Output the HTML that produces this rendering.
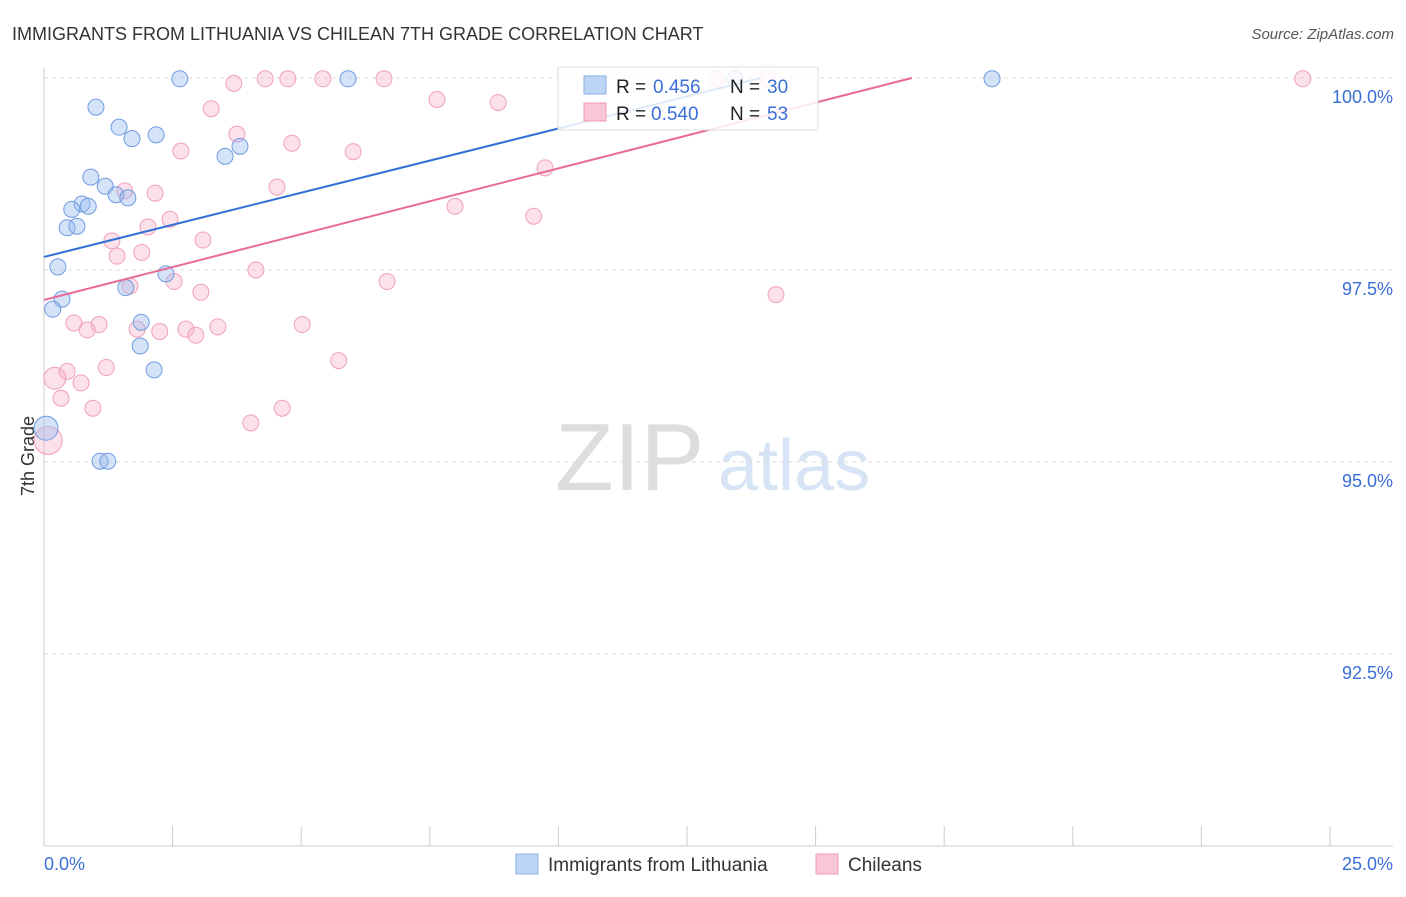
<!DOCTYPE html>
<html><head><meta charset="utf-8">
<style>
body{margin:0;background:#fff;font-family:"Liberation Sans",sans-serif;}
svg text{font-family:"Liberation Sans",sans-serif;}
</style></head>
<body>
<svg id="chart" width="1406" height="892" xmlns="http://www.w3.org/2000/svg">
<text x="12" y="40" font-size="18" fill="#333">IMMIGRANTS FROM LITHUANIA VS CHILEAN 7TH GRADE CORRELATION CHART</text>
<text x="1394" y="39" font-size="15" fill="#555" text-anchor="end" font-style="italic">Source: ZipAtlas.com</text>
<text x="555" y="490" font-size="96" fill="#ddd" font-family="Liberation Serif">ZIP</text>
<text x="718" y="490" font-size="72" fill="#d6e4f5">atlas</text>
<text transform="translate(34,456) rotate(-90)" font-size="18" fill="#333" text-anchor="middle">7th Grade</text>
<g id="grid"></g><g id="marks"></g>
<g>
<rect x="558" y="67" width="260" height="63" fill="rgba(255,255,255,0.85)" stroke="#ddd"/>
<rect x="584" y="76" width="22" height="18" fill="#bcd4f5" stroke="#8ab0e8"/>
<rect x="584" y="103" width="22" height="18" fill="#f9c6d6" stroke="#ef9ab5"/>
<text x="616" y="93" font-size="19" fill="#222">R =</text>
<text x="653" y="93" font-size="19" fill="#3a6fd8">0.456</text>
<text x="730" y="93" font-size="19" fill="#222">N =</text>
<text x="767" y="93" font-size="19" fill="#3a6fd8">30</text>
<text x="616" y="120" font-size="19" fill="#222">R =</text>
<text x="651" y="120" font-size="19" fill="#3a6fd8">0.540</text>
<text x="730" y="120" font-size="19" fill="#222">N =</text>
<text x="767" y="120" font-size="19" fill="#3a6fd8">53</text>
</g>
<g>
<rect x="516" y="854" width="22" height="20" fill="#bcd4f5" stroke="#8ab0e8"/>
<text x="548" y="871" font-size="19" fill="#333">Immigrants from Lithuania</text>
<rect x="816" y="854" width="22" height="20" fill="#f9c6d6" stroke="#ef9ab5"/>
<text x="848" y="871" font-size="19" fill="#333">Chileans</text>
</g>
</svg>
<script>
const yTicks=[100,97.5,95,92.5];
const yTickLabels=["100.0%","97.5%","95.0%","92.5%"];
const blueX=[2.64,5.91,18.43,1.01,1.46,1.71,2.18,3.52,3.81,0.91,1.19,1.40,1.63,0.74,0.86,0.54,0.45,0.64,0.27,2.37,1.59,0.35,0.17,1.89,1.87,2.14,0.04,1.09,1.24,13.43];
const blueY=[99.99,99.99,99.99,99.62,99.36,99.21,99.26,98.98,99.11,98.71,98.59,98.48,98.44,98.36,98.33,98.29,98.05,98.07,97.54,97.45,97.27,97.12,96.99,96.82,96.51,96.20,95.44,95.01,95.01,99.99];
const blueR=[8,8,8,8,8,8,8,8,8,8,8,8,8,8,8,8,8,8,8,8,8,8,8,8,8,8,12,8,8,8];
const pinkX=[3.69,4.30,4.74,5.42,6.61,13.08,14.07,24.47,3.25,7.64,8.83,3.75,4.82,2.66,6.01,9.74,4.53,1.57,2.16,7.99,9.52,2.45,2.02,1.32,3.09,1.90,1.42,4.12,2.53,6.67,1.67,3.05,14.23,0.58,1.07,5.02,0.84,1.81,2.76,2.25,3.38,2.95,5.73,1.21,0.45,0.21,0.72,0.33,0.95,4.63,4.02,0.08];
const pinkY=[99.93,99.99,99.99,99.99,99.99,99.99,99.99,99.99,99.60,99.72,99.68,99.27,99.15,99.05,99.04,98.83,98.58,98.53,98.50,98.33,98.20,98.16,98.06,97.88,97.89,97.73,97.68,97.50,97.35,97.35,97.29,97.21,97.18,96.81,96.79,96.79,96.72,96.73,96.73,96.70,96.76,96.65,96.32,96.23,96.18,96.09,96.03,95.83,95.70,95.70,95.51,95.28];
const pinkR=[8,8,8,8,8,8,8,8,8,8,8,8,8,8,8,8,8,8,8,8,8,8,8,8,8,8,8,8,8,8,8,8,8,8,8,8,8,8,8,8,8,8,8,8,8,11,8,8,8,8,8,14];
const blueLine=[[0,97.67],[13.93,100]];
const pinkLine=[[0,97.11],[16.87,100]];
const X=v=>44+v*51.44, Y=v=>78+(100-v)*76.8;
const ns="http://www.w3.org/2000/svg";
const grid=document.getElementById('grid'), marks=document.getElementById('marks');
function mk(t,a,p){const e=document.createElementNS(ns,t);for(const k in a)e.setAttribute(k,a[k]);p.appendChild(e);return e;}
yTicks.forEach((t,i)=>{
 const l=mk('line',{x1:44,x2:1393,y1:Y(t),y2:Y(t),stroke:'#ddd','stroke-dasharray':'4,4'},grid);
 
 
 const tx=mk('text',{x:1393,y:Y(t)+25,'font-size':18,fill:'#3a6fd8','text-anchor':'end'},grid);
 tx.textContent=yTickLabels[i];
 
 
});
const ax=mk('line',{x1:44,x2:44,y1:68,y2:846,stroke:'#ccc'},grid);


const bx=mk('line',{x1:44,x2:1393,y1:846,y2:846,stroke:'#ccc'},grid);


for(let i=0;i<=10;i++){const t=mk('line',{x1:X(i*2.5),x2:X(i*2.5),y1:826,y2:846,stroke:'#ccc'},grid);
 
 }
[["0.0%",44,'start'],["25.0%",1393,'end']].forEach(a=>{const t=mk('text',{x:a[1],y:870,'font-size':18,fill:'#3a6fd8','text-anchor':a[2]},grid);t.textContent=a[0];
 
 });
pinkX.forEach((x,i)=>{const c=mk('circle',{cx:X(x),cy:Y(pinkY[i]),r:pinkR[i],fill:'rgba(246,170,195,0.35)',stroke:'#f0a0bb','stroke-width':1},marks);
 
 });
blueX.forEach((x,i)=>{const c=mk('circle',{cx:X(x),cy:Y(blueY[i]),r:blueR[i],fill:'rgba(150,185,240,0.4)',stroke:'#6f9be0','stroke-width':1},marks);
 
 });
const bl=mk('line',{x1:X(blueLine[0][0]),y1:Y(blueLine[0][1]),x2:X(blueLine[1][0]),y2:Y(blueLine[1][1]),stroke:'#2f6fd6','stroke-width':2},marks);


const pl=mk('line',{x1:X(pinkLine[0][0]),y1:Y(pinkLine[0][1]),x2:X(pinkLine[1][0]),y2:Y(pinkLine[1][1]),stroke:'#e86a96','stroke-width':2},marks);


</script>
</body></html>
